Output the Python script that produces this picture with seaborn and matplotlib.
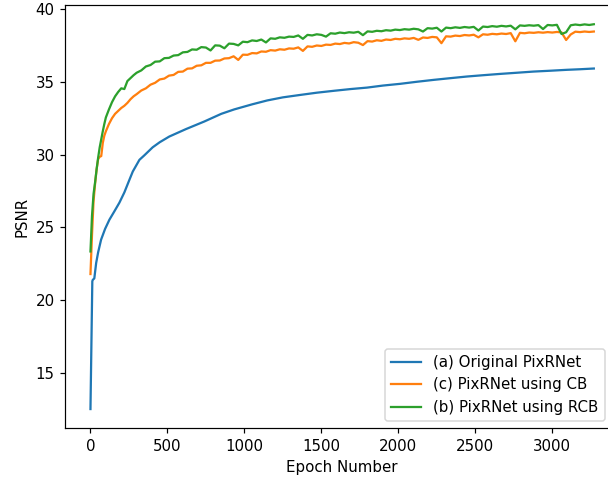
import numpy as np
import pandas as pd
import matplotlib
matplotlib.use('Agg')
import matplotlib.pyplot as plt
import seaborn as sns

# ---------------------------------------------------------
# Data
# ---------------------------------------------------------
labels = ['(a) Original PixRNet', '(c) PixRNet using CB', '(b) PixRNet using RCB']
colors = ['#1f77b4', '#ff7f0e', '#2ca02c']

# (a) Original PixRNet - smooth curve
epochs_a = [0, 12, 15, 25, 37, 50, 69, 95, 123, 155, 188, 220, 253, 275, 318, 350,
            404, 450, 512, 620, 739, 850, 933, 1050, 1149, 1250, 1365, 1470, 1581,
            1690, 1797, 1900, 2013, 2120, 2229, 2340, 2445, 2550, 2661, 2770, 2877,
            2990, 3093, 3180, 3270]
psnr_a = [12.53, 21.3, 21.4, 21.5, 22.56, 23.3, 24.16, 24.9, 25.53, 26.1, 26.7, 27.4,
          28.27, 28.84, 29.64, 29.95, 30.5, 30.85, 31.24, 31.75, 32.27, 32.8, 33.1,
          33.45, 33.72, 33.93, 34.1, 34.25, 34.38, 34.5, 34.6, 34.74, 34.86, 35.0,
          35.13, 35.25, 35.36, 35.45, 35.54, 35.62, 35.70, 35.76, 35.82, 35.86, 35.91]

# noisy curves share the same epoch grid
epochs_early = [0, 10, 20, 30, 40, 50, 60, 70, 80, 90, 100, 120, 140, 160, 180, 200,
                220, 240, 260, 280, 300]
epochs_bc = epochs_early + list(range(330, 3271, 30))

# (c) PixRNet using CB
psnr_c = [21.8, 24.5, 26.8, 28.0, 29.0, 29.7, 29.85, 29.9, 30.8, 31.3, 31.6, 32.1,
          32.5, 32.8, 33.0, 33.2, 33.35, 33.55, 33.8, 34.0, 34.15,
          34.40, 34.55, 34.80, 34.93, 35.16, 35.22, 35.42, 35.47, 35.68, 35.70,
          35.90, 35.92, 36.10, 36.13, 36.30, 36.30, 36.45, 36.46, 36.60, 36.62,
          36.75, 36.50, 36.86, 36.85, 36.97, 36.95, 37.08, 37.06, 37.17, 37.14,
          37.23, 37.20, 37.29, 37.27, 37.36, 37.12, 37.43, 37.40, 37.49, 37.46,
          37.55, 37.53, 37.62, 37.59, 37.67, 37.63, 37.72, 37.68, 37.52, 37.79,
          37.76, 37.85, 37.81, 37.90, 37.87, 37.95, 37.92, 37.98, 37.95, 38.01,
          37.88, 38.04, 38.01, 38.08, 38.05, 37.65, 38.12, 38.10, 38.17, 38.14,
          38.21, 38.18, 38.23, 38.05, 38.26, 38.23, 38.29, 38.26, 38.31, 38.28,
          38.34, 37.78, 38.36, 38.33, 38.38, 38.36, 38.40, 38.37, 38.41, 38.38,
          38.42, 38.39, 37.87, 38.25, 38.44, 38.41, 38.45, 38.42, 38.45]

# (b) PixRNet using RCB
psnr_b = [23.35, 25.8, 27.3, 28.1, 29.0, 29.8, 30.5, 31.05, 31.6, 32.1, 32.55, 33.1,
          33.6, 34.0, 34.3, 34.55, 34.5, 35.05, 35.25, 35.45, 35.62,
          35.78, 36.05, 36.15, 36.38, 36.40, 36.62, 36.64, 36.80, 36.83, 37.02,
          37.05, 37.22, 37.20, 37.38, 37.35, 37.15, 37.50, 37.48, 37.30, 37.62,
          37.60, 37.50, 37.75, 37.72, 37.84, 37.80, 37.90, 37.70, 37.98, 37.95,
          38.05, 38.02, 38.10, 38.08, 38.18, 37.95, 38.22, 38.18, 38.26, 38.22,
          38.10, 38.33, 38.30, 38.38, 38.34, 38.40, 38.37, 38.43, 38.20, 38.46,
          38.43, 38.50, 38.47, 38.54, 38.51, 38.58, 38.55, 38.61, 38.58, 38.64,
          38.60, 38.45, 38.68, 38.65, 38.71, 38.45, 38.72, 38.68, 38.74, 38.70,
          38.76, 38.72, 38.77, 38.52, 38.79, 38.76, 38.82, 38.78, 38.84, 38.80,
          38.85, 38.60, 38.87, 38.84, 38.88, 38.85, 38.89, 38.62, 38.90, 38.87,
          38.91, 38.28, 38.40, 38.88, 38.93, 38.89, 38.94, 38.90, 38.95]


def main():
    df = pd.concat([
        pd.DataFrame({'epoch': epochs_a, 'psnr': psnr_a, 'model': labels[0]}),
        pd.DataFrame({'epoch': epochs_bc, 'psnr': psnr_c, 'model': labels[1]}),
        pd.DataFrame({'epoch': epochs_bc, 'psnr': psnr_b, 'model': labels[2]}),
    ], ignore_index=True)

    dpi = 108
    fig = plt.figure(figsize=(608 / dpi, 482 / dpi), dpi=dpi)
    # the original image is cropped on the right, so the axes run past the edge
    ax = fig.add_axes([65.3 / 608, (482 - 428.3) / 482, (619 - 65.3) / 608, (428.3 - 5) / 482])

    sns.lineplot(data=df, x='epoch', y='psnr', hue='model', hue_order=labels,
                 palette=colors, estimator=None, sort=False, linewidth=1.5, ax=ax)

    ax.set_xlabel('Epoch Number')
    ax.set_ylabel('PSNR')
    ax.set_xticks([0, 500, 1000, 1500, 2000, 2500, 3000])
    ax.set_yticks([15, 20, 25, 30, 35, 40])
    ax.legend(loc='lower right', bbox_to_anchor=(0.988, 0.0))

    fig.savefig('out.png', dpi=dpi)
    plt.close(fig)


if __name__ == '__main__':
    main()
